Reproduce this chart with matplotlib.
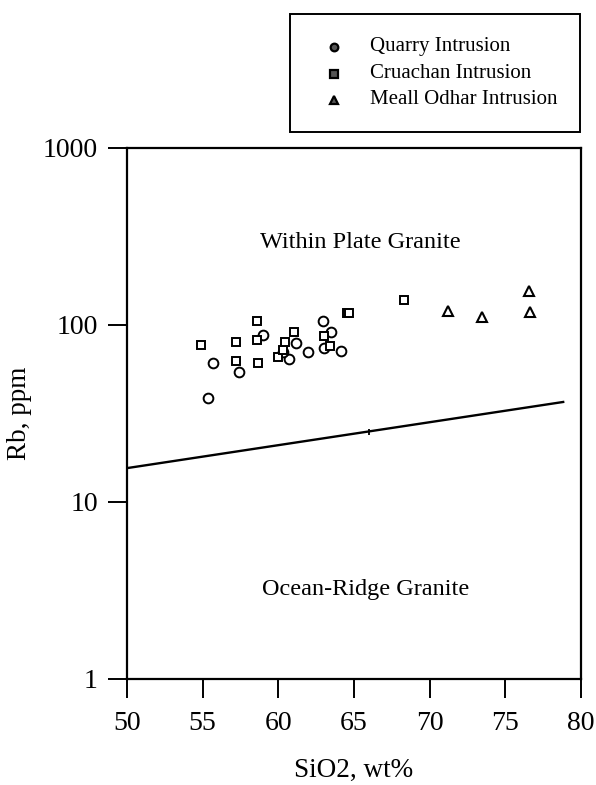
import matplotlib
matplotlib.use("Agg")
import matplotlib.pyplot as plt
from matplotlib.lines import Line2D
from matplotlib.patches import Rectangle

plt.rcParams['font.family'] = ['Liberation Serif', 'DejaVu Serif']

# Data
quarry_sio2 = [55.68, 57.40, 55.37, 59.00, 61.17, 60.70, 61.98, 62.95, 63.50, 63.00, 64.14, 60.30]
quarry_rb = [61.0, 54.1, 38.5, 87.0, 79.1, 64.0, 70.1, 105.0, 90.5, 73.8, 71.3, 70.0]

cruachan_sio2 = [54.89, 57.18, 57.18, 58.61, 58.61, 58.64, 59.98, 60.29, 60.42, 61.04, 63.00, 63.41, 64.52, 64.70, 68.32]
cruachan_rb = [77.1, 79.4, 62.4, 104.4, 82.3, 61.0, 65.4, 71.9, 79.4, 90.5, 86.3, 75.4, 115.8, 115.8, 137.9]

meall_sio2 = [71.19, 73.44, 76.54, 76.61]
meall_rb = [120.0, 111.0, 155.6, 118.0]

boundary_sio2 = [50.0, 78.9]
boundary_rb = [15.5, 36.7]
boundary_mark_sio2 = [66.0]
boundary_mark_rb = [24.9]

legend_labels = ["Quarry Intrusion", "Cruachan Intrusion", "Meall Odhar Intrusion"]
field_labels = ["Within Plate Granite", "Ocean-Ridge Granite"]
field_x = [65.4, 65.8]
field_y = [290.0, 3.22]

xticks = [50, 55, 60, 65, 70, 75, 80]
yticks = [1, 10, 100, 1000]
ytick_labels = ["1", "10", "100", "1000"]

W, H = 596, 785
fig = plt.figure(figsize=(W / 100, H / 100), dpi=100)
ax = fig.add_axes([127 / W, 1 - 679 / H, (581 - 127) / W, (679 - 147.5) / H])

ax.set_yscale('log')
ax.set_xlim(50, 80)
ax.set_ylim(1, 1000)

ax.plot(boundary_sio2, boundary_rb, color='black', lw=1.7, solid_capstyle='butt')
ax.plot(boundary_mark_sio2, boundary_mark_rb, linestyle='none', marker='|',
        markersize=5, mew=1.3, color='black')

ax.plot(quarry_sio2, quarry_rb, linestyle='none', marker='o', markersize=7.0,
        mfc='white', mec='black', mew=1.4)
ax.plot(cruachan_sio2, cruachan_rb, linestyle='none', marker='s', markersize=6.2,
        mfc='white', mec='black', mew=1.4)
ax.plot(meall_sio2, meall_rb, linestyle='none', marker='^', markersize=6.8,
        mfc='white', mec='black', mew=1.5)

for lab, x, y in zip(field_labels, field_x, field_y):
    ax.text(x, y, lab, ha='center', va='center', fontsize=17.5)

ax.set_xticks(xticks)
ax.set_xticklabels([str(t) for t in xticks])
ax.set_yticks(yticks)
ax.set_yticklabels(ytick_labels)
ax.minorticks_off()
ax.tick_params(axis='both', direction='out', length=14, width=1.4, labelsize=20, pad=7)
ax.tick_params(axis='x', pad=9)
for s in ax.spines.values():
    s.set_linewidth(1.6)

ax.set_xlabel("SiO2, wt%", fontsize=19.5, labelpad=16)
ax.set_ylabel("Rb, ppm", fontsize=19.5, labelpad=8)

# Legend box drawn in figure coordinates
box = Rectangle((290 / W, 1 - 132 / H), (580 - 290) / W, (132 - 14) / H,
                transform=fig.transFigure, fill=False, edgecolor='black', lw=1.4)
fig.add_artist(box)
leg_markers = ['o', 's', '^']
leg_y = [47, 74, 100]
for m, lab, yy in zip(leg_markers, legend_labels, leg_y):
    fig.add_artist(Line2D([334 / W], [1 - yy / H], marker=m, markersize=5.5,
                          mfc='#555555', mec='black', mew=1.6, linestyle='none',
                          transform=fig.transFigure))
    fig.text(370 / W, 1 - yy / H, lab, ha='left', va='center', fontsize=15)

fig.savefig("out.png", dpi=100)
